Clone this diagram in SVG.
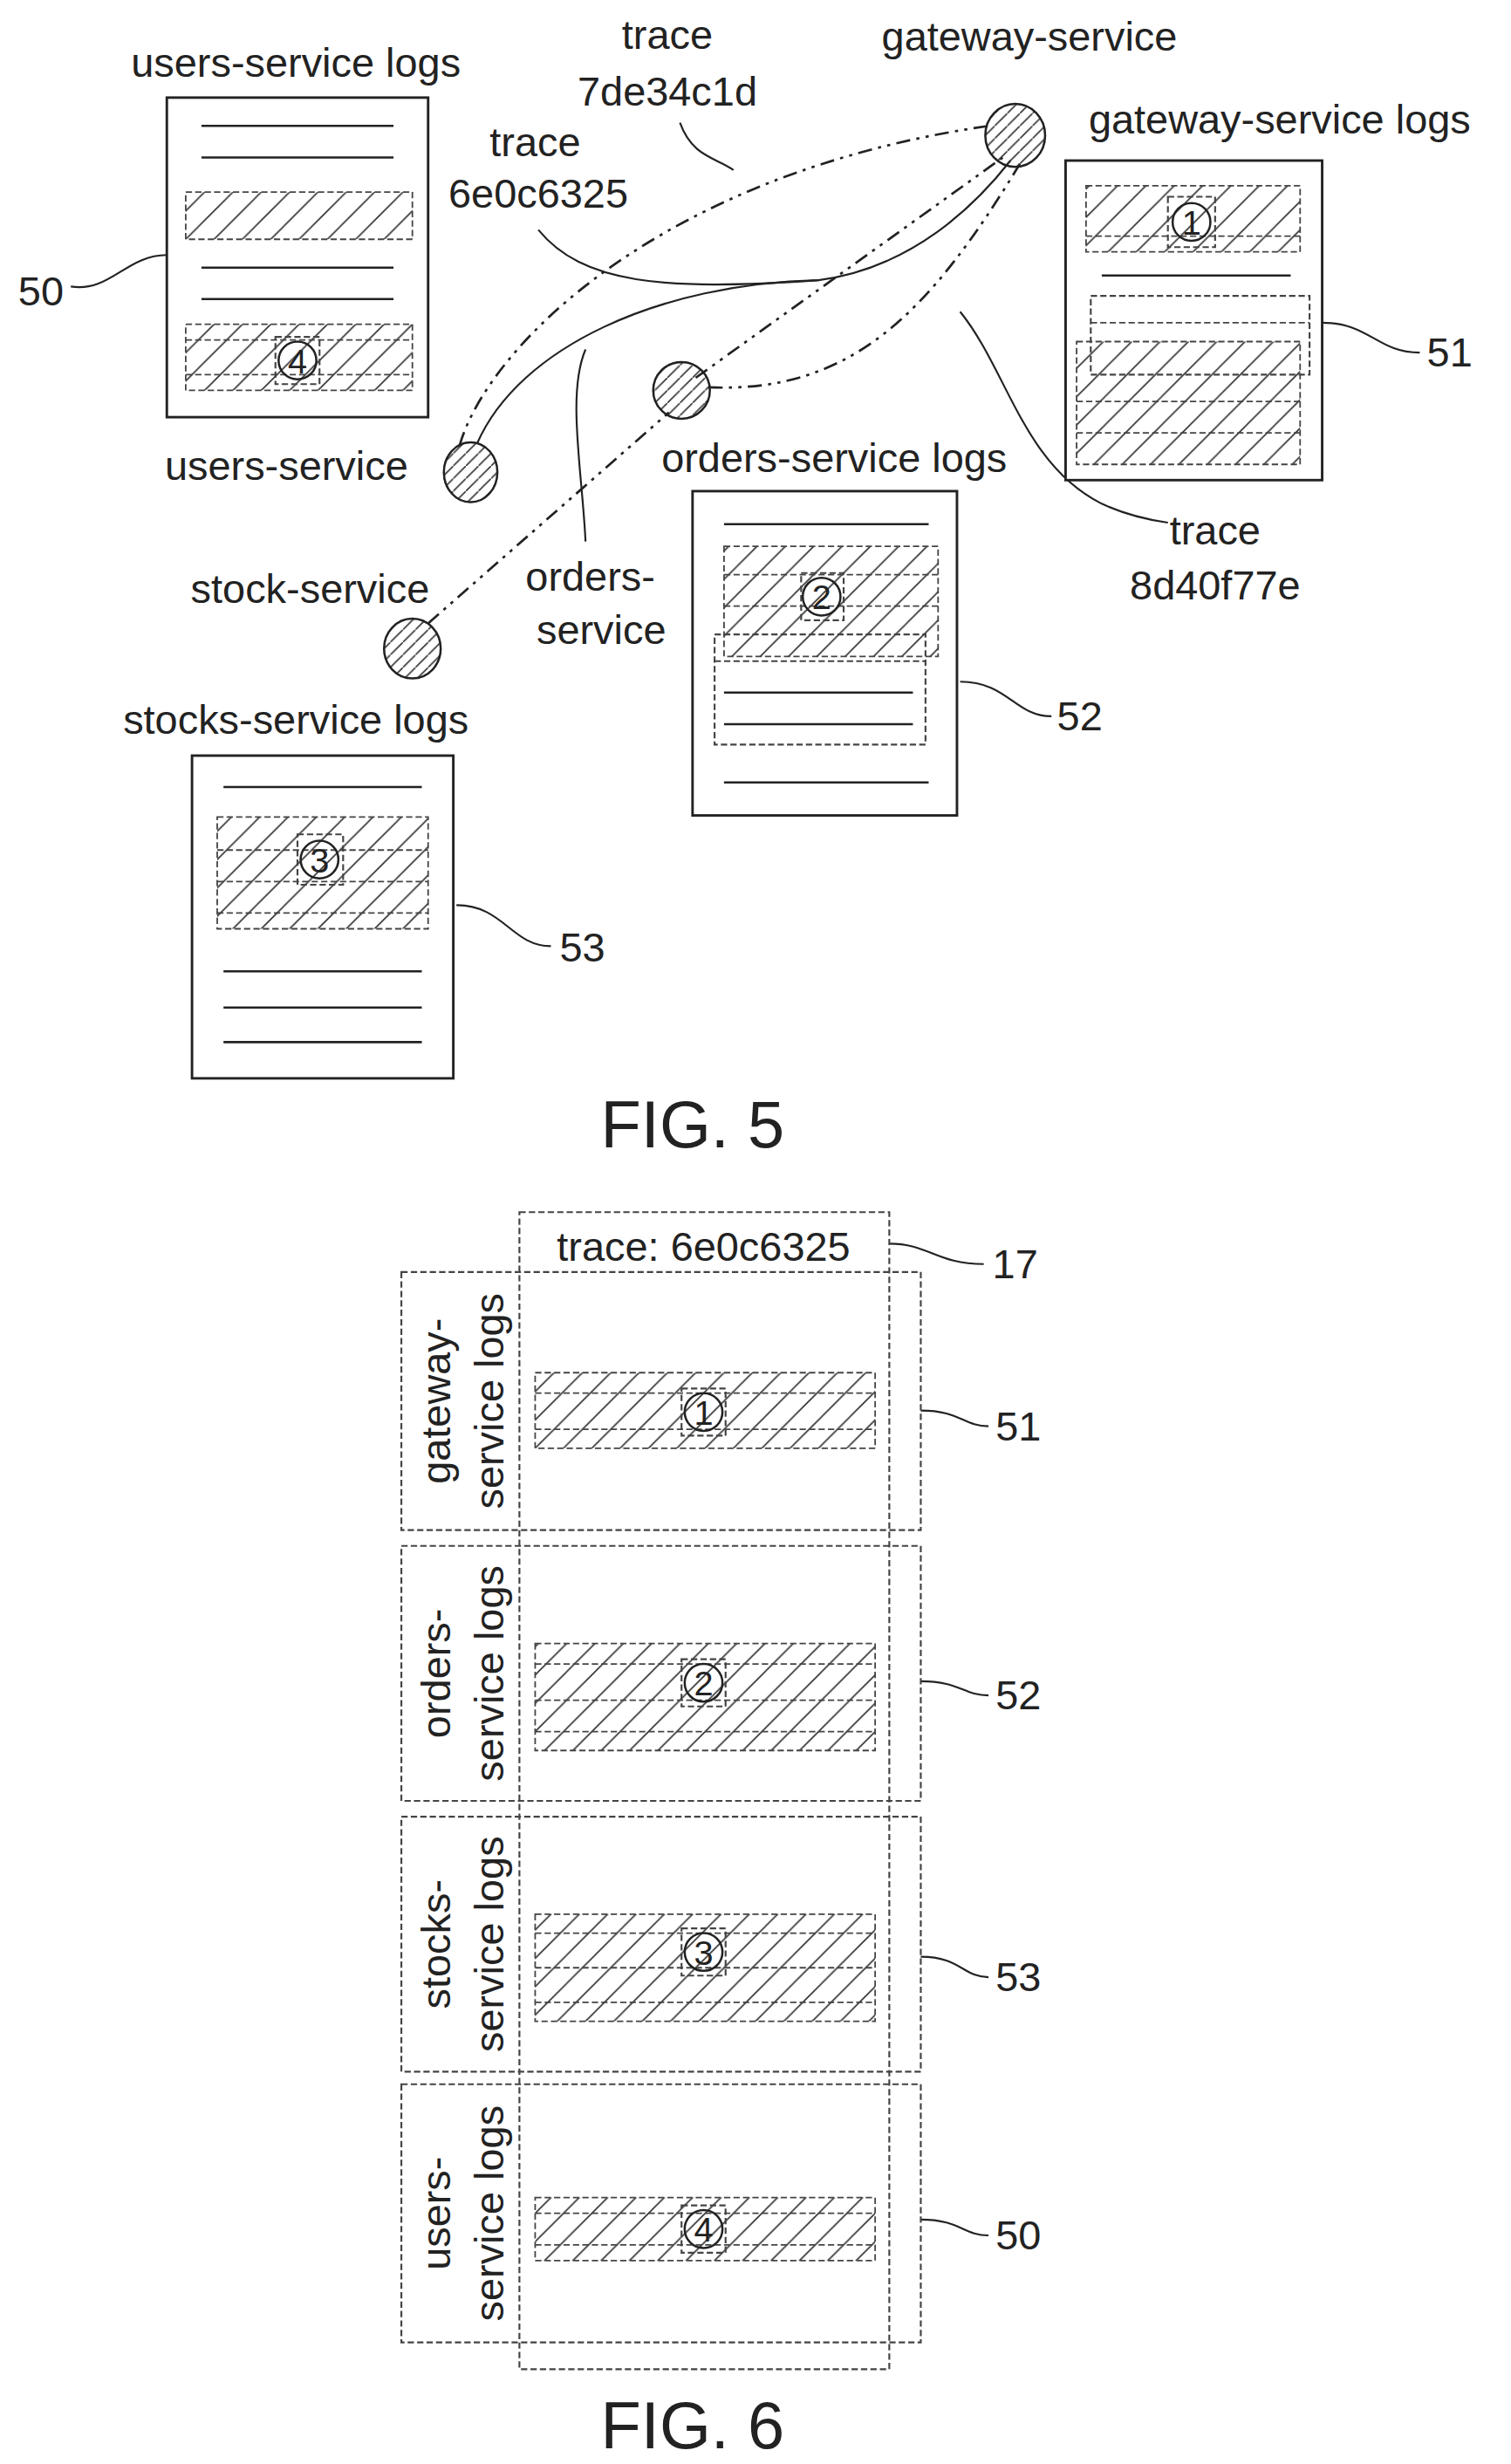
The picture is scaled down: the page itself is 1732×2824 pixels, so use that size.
<svg xmlns="http://www.w3.org/2000/svg" width="1732" height="2824" viewBox="0 0 1732 2824">
<style>
text{font-family:"Liberation Sans",Arial,sans-serif;fill:#222}
.t{font-size:26px;text-anchor:middle}
.fig{font-size:42px;text-anchor:middle}
.box{fill:#fff;stroke:#222;stroke-width:1.6}
.ln{stroke:#222;stroke-width:1.4;fill:none}
.dl{stroke:#444;stroke-width:1;fill:none;stroke-dasharray:4 2}
.hat{fill:url(#h);stroke:#444;stroke-width:1;stroke-dasharray:4 2}
.dd{fill:none;stroke:#222;stroke-width:1.5;stroke-dasharray:9 4 2 4 2 4}
.ld{fill:none;stroke:#222;stroke-width:1.2}
.num{font-size:22px;text-anchor:middle}
.db{fill:none;stroke:#444;stroke-width:1.2;stroke-dasharray:4 2}
</style>
<defs>
<pattern id="h" patternUnits="userSpaceOnUse" width="18" height="18"><path d="M0,18 L18,0 M-2,2 L2,-2 M16,20 L20,16" stroke="#333" stroke-width="0.9"/></pattern>
<pattern id="h2" patternUnits="userSpaceOnUse" width="8" height="8"><path d="M0,8 L8,0" stroke="#333" stroke-width="0.9"/></pattern>
</defs>
<rect width="1732" height="2824" fill="#fff"/>
<g transform="scale(1.8042)">
<g id="connectors">
<path class="dd" d="M292,283 C310,220 420,110 628,80"/>
<path class="ld" d="M303,282 C330,220 420,180 520,178 C580,170 620,130 642,102"/>
<path class="dd" d="M272,396 L425,262 M442,240 L640,98"/>
<path class="dd" d="M450,246 C540,250 590,200 648,104"/>
<path class="ld" d="M432,78 C440,100 455,100 466,108"/>
<path class="ld" d="M342,146 C370,180 420,185 520,178"/>
<path class="ld" d="M610,198 C640,235 650,295 700,320 C715,327 728,330 742,332"/>
<path class="ld" d="M372,344 C370,300 360,250 372,222"/>
<path class="ld" d="M45,182 C70,186 80,162 106,162"/>
<path class="ld" d="M840,205 C870,205 875,224 902,224"/>
<path class="ld" d="M610,433 C640,433 645,455 668,455"/>
<path class="ld" d="M290,575 C320,575 325,601 350,601"/>
<path class="ld" d="M565,790 C590,790 595,803 625,803"/>
<path class="ld" d="M585,896 C610,896 612,906 628,906"/>
<path class="ld" d="M585,1068 C610,1068 612,1077 628,1077"/>
<path class="ld" d="M585,1243 C610,1243 612,1256 628,1256"/>
<path class="ld" d="M585,1410 C610,1410 612,1420 628,1420"/>
</g>
<g id="svc">
<ellipse cx="645" cy="86" rx="19" ry="20" fill="url(#h2)" stroke="#222" stroke-width="1.4"/>
<ellipse cx="299" cy="300" rx="17" ry="19" fill="url(#h2)" stroke="#222" stroke-width="1.4"/>
<ellipse cx="433" cy="248" rx="18" ry="18" fill="url(#h2)" stroke="#222" stroke-width="1.4"/>
<ellipse cx="262" cy="412" rx="18" ry="19" fill="url(#h2)" stroke="#222" stroke-width="1.4"/>
<text class="t" x="654" y="32">gateway-service</text>
<text class="t" x="813" y="85">gateway-service logs</text>
<text class="t" x="182" y="305">users-service</text>
<text class="t" x="530" y="300">orders-service logs</text>
<text class="t" x="197" y="383">stock-service</text>
<text class="t" x="188" y="466">stocks-service logs</text>
<text class="t" x="188" y="49">users-service logs</text>
<text class="t" x="375" y="375">orders-</text>
<text class="t" x="382" y="409">service</text>
<text class="t" x="424" y="31">trace</text>
<text class="t" x="424" y="67">7de34c1d</text>
<text class="t" x="340" y="99">trace</text>
<text class="t" x="342" y="132">6e0c6325</text>
<text class="t" x="772" y="346">trace</text>
<text class="t" x="772" y="381">8d40f77e</text>
<text class="t" x="26" y="194">50</text>
<text class="t" x="921" y="233">51</text>
<text class="t" x="686" y="464">52</text>
<text class="t" x="370" y="611">53</text>
</g>
<g id="n50">
<rect class="box" x="106" y="62" width="166" height="203"/>
<path class="ln" d="M128,80H250M128,100H250M128,170H250M128,190H250"/>
<rect class="hat" x="118" y="122" width="144" height="30"/>
<rect class="hat" x="118" y="206" width="144" height="42"/>
<path class="dl" d="M118,216H262M118,238H262"/>
<rect class="db" x="175" y="214" width="28" height="30" fill="#fff"/>
<circle cx="189" cy="229" r="12" class="ln"/><text class="num" x="189" y="237">4</text>
</g>
<g id="n51">
<rect class="box" x="677" y="102" width="163" height="203"/>
<rect class="hat" x="690" y="118" width="136" height="42"/>
<path class="dl" d="M690,150H826"/>
<rect class="db" x="742" y="125" width="30" height="32" fill="#fff"/>
<circle cx="757" cy="141" r="12" class="ln"/><text class="num" x="757" y="149">1</text>
<path class="ln" d="M700,175H820"/>
<rect class="hat" x="684" y="217" width="142" height="78"/>
<rect class="db" x="693" y="188" width="139" height="50"/>
<path class="dl" d="M693,205H832M684,255H826M684,275H826"/>
</g>
<g id="n52">
<rect class="box" x="440" y="312" width="168" height="206"/>
<path class="ln" d="M460,333H590M460,497H590M460,440H580M460,460H580"/>
<rect class="hat" x="460" y="347" width="136" height="70"/>
<path class="dl" d="M460,365H596M460,385H596"/>
<rect class="db" x="454" y="403" width="134" height="70"/>
<path class="dl" d="M454,420H588"/>
<rect class="db" x="509" y="364" width="27" height="30" fill="#fff"/>
<circle cx="522" cy="379" r="12" class="ln"/><text class="num" x="522" y="387">2</text>
</g>
<g id="n53">
<rect class="box" x="122" y="480" width="166" height="205"/>
<path class="ln" d="M142,500H268M142,617H268M142,640H268M142,662H268"/>
<rect class="hat" x="138" y="519" width="134" height="71"/>
<path class="dl" d="M138,540H272M138,560H272M138,580H272"/>
<rect class="db" x="189" y="530" width="29" height="32" fill="#fff"/>
<circle cx="203" cy="546" r="12" class="ln"/><text class="num" x="203" y="554">3</text>
</g>
<text class="fig" x="440" y="729">FIG. 5</text>
<g id="n17">
<rect class="db" x="330" y="770" width="235" height="735"/>
<text class="t" x="447" y="801">trace: 6e0c6325</text>
<text class="t" x="645" y="812">17</text>
</g>
<g id="r51">
<rect class="db" x="255" y="808" width="330" height="164"/>
<rect class="hat" x="340" y="872" width="216" height="48"/>
<path class="dl" d="M340,885H556M340,908H556"/>
<rect class="db" x="433" y="882" width="28" height="30" fill="#fff"/>
<circle cx="447" cy="897" r="12" class="ln"/><text class="num" x="447" y="905">1</text>
<text class="t" transform="translate(286,890) rotate(-90)">gateway-</text>
<text class="t" transform="translate(320,890) rotate(-90)">service logs</text>
<text class="t" x="647" y="915">51</text>
</g>
<g id="r52">
<rect class="db" x="255" y="982" width="330" height="162"/>
<rect class="hat" x="340" y="1044" width="216" height="68"/>
<path class="dl" d="M340,1057H556M340,1080H556M340,1100H556"/>
<rect class="db" x="433" y="1054" width="28" height="30" fill="#fff"/>
<circle cx="447" cy="1069" r="12" class="ln"/><text class="num" x="447" y="1077">2</text>
<text class="t" transform="translate(286,1063) rotate(-90)">orders-</text>
<text class="t" transform="translate(320,1063) rotate(-90)">service logs</text>
<text class="t" x="647" y="1086">52</text>
</g>
<g id="r53">
<rect class="db" x="255" y="1154" width="330" height="162"/>
<rect class="hat" x="340" y="1216" width="216" height="68"/>
<path class="dl" d="M340,1228H556M340,1250H556M340,1272H556"/>
<rect class="db" x="433" y="1225" width="28" height="30" fill="#fff"/>
<circle cx="447" cy="1240" r="12" class="ln"/><text class="num" x="447" y="1248">3</text>
<text class="t" transform="translate(286,1235) rotate(-90)">stocks-</text>
<text class="t" transform="translate(320,1235) rotate(-90)">service logs</text>
<text class="t" x="647" y="1265">53</text>
</g>
<g id="r50">
<rect class="db" x="255" y="1324" width="330" height="164"/>
<rect class="hat" x="340" y="1396" width="216" height="40"/>
<path class="dl" d="M340,1406H556M340,1426H556"/>
<rect class="db" x="433" y="1401" width="28" height="30" fill="#fff"/>
<circle cx="447" cy="1416" r="12" class="ln"/><text class="num" x="447" y="1424">4</text>
<text class="t" transform="translate(286,1406) rotate(-90)">users-</text>
<text class="t" transform="translate(320,1406) rotate(-90)">service logs</text>
<text class="t" x="647" y="1429">50</text>
</g>
<text class="fig" x="440" y="1555">FIG. 6</text>
</g>
</svg>
